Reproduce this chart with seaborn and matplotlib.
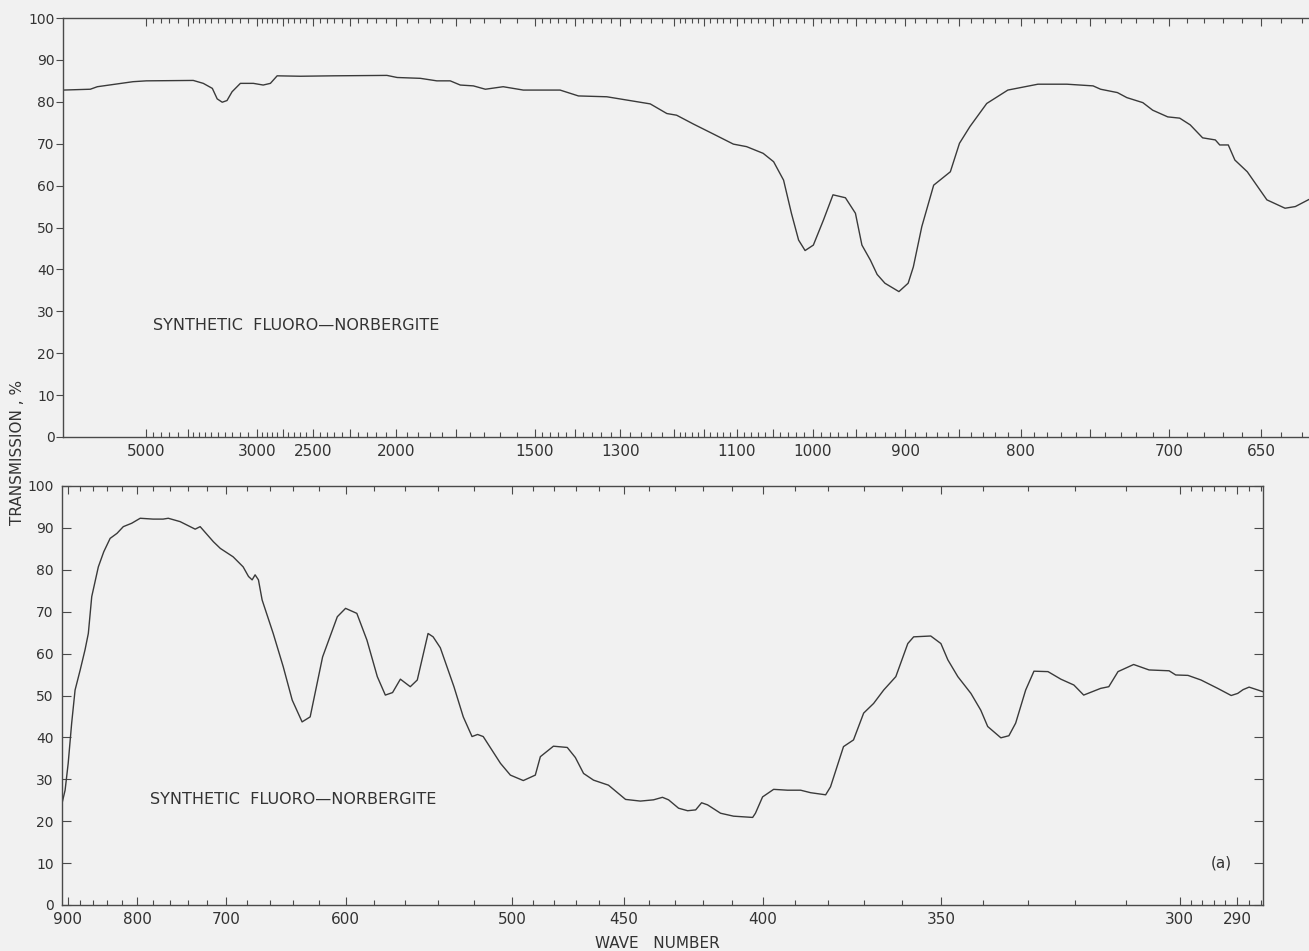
import numpy as np
import pandas as pd
import seaborn as sns
import matplotlib.pyplot as plt

# ---- data (wave number cm-1, transmission %) ----
TOP_WN = [10000, 7530, 7080, 5430, 5000, 3900, 3725, 3580, 3507, 3434, 3368, 3300,
          3195, 3043, 2938, 2865, 2800, 2597, 2355, 2045, 1995, 1890, 1822, 1770,
          1733, 1687, 1647, 1591, 1532, 1435, 1391, 1328, 1281, 1242, 1212, 1195,
          1167, 1135, 1105, 1086, 1063, 1049, 1036, 1026, 1017, 1009, 999, 987,
          976, 962, 951, 944, 935, 928, 920, 906, 897, 892, 884, 873, 858, 850,
          841, 827, 810, 787, 766, 748, 743, 732, 726, 716, 710, 701, 694, 688,
          681, 674, 671.6, 667, 663.5, 657, 647, 638, 633, 626.5]
TOP_T = [82.8, 83.0, 83.6, 84.8, 85.0, 85.1, 84.4, 83.2, 80.7, 79.9, 80.3, 82.4,
         84.4, 84.4, 84.0, 84.4, 86.2, 86.1, 86.2, 86.3, 85.8, 85.6, 85.0, 85.0,
         84.0, 83.8, 83.0, 83.6, 82.8, 82.8, 81.4, 81.2, 80.3, 79.5, 77.2, 76.8,
         74.7, 72.3, 69.9, 69.3, 67.7, 65.7, 61.3, 53.4, 47.0, 44.5, 45.8, 51.8,
         57.8, 57.1, 53.4, 45.8, 42.2, 38.8, 36.7, 34.7, 36.7, 40.6, 50.2, 60.1,
         63.3, 70.1, 74.1, 79.6, 82.8, 84.2, 84.2, 83.8, 83.0, 82.2, 81.0, 79.8,
         78.0, 76.4, 76.1, 74.5, 71.4, 70.9, 69.7, 69.7, 66.1, 63.3, 56.6, 54.6,
         55.0, 56.7]

BOT_WN = [909, 904, 899, 893.4, 888, 880, 872.6, 867.6, 862.5, 852.8, 845, 836,
          826.5, 818, 807, 796, 780, 768, 762, 748.5, 732, 726.7, 713, 706, 693.5,
          684, 679, 675.7, 673, 670, 666.7, 657, 648.5, 641, 633, 626.6, 617, 606,
          600, 592, 585, 578, 572.7, 568, 563, 556.8, 552.5, 546, 543, 538.8, 531,
          525.8, 521, 518, 515, 506, 501, 494.6, 488.8, 486.4, 480.3, 474,
          470.4, 466.8, 462.5, 456.2, 449.2, 443.3, 438.2, 434.8, 432.5, 428.8,
          425.5, 422.6, 420.5, 418.4, 413.9, 409.5, 403.2, 402.3, 400, 396.5,
          392.2, 388.2, 385.2, 380.8, 379.4, 375.7, 372.9, 370.1, 367.4, 364.7,
          361.5, 358.4, 356.9, 352.6, 350.1, 348.4, 346, 342.9, 340.6, 339, 336,
          334.2, 332.7, 330.5, 328.7, 325.7, 323, 320.3, 318.3, 314.9, 313.3,
          311.5, 308.5, 305.6, 301.9, 300.7, 298.5, 296.2, 293.3, 291, 289.9,
          289, 288, 285.7]
BOT_T = [24.3, 27.4, 33.8, 43.4, 51.3, 56.1, 60.9, 64.8, 73.6, 80.7, 84.3, 87.5,
         88.7, 90.3, 91.1, 92.3, 92.1, 92.1, 92.3, 91.5, 89.7, 90.3, 86.7, 85.1,
         83.1, 80.7, 78.4, 77.6, 78.8, 77.6, 72.8, 64.8, 56.9, 48.9, 43.7, 44.9,
         59.2, 68.8, 70.8, 69.6, 63.2, 54.5, 50.1, 50.7, 53.9, 52.1, 53.7, 64.8,
         64.0, 61.4, 52.1, 44.9, 40.2, 40.7, 40.2, 33.8, 31.0, 29.7, 31.0, 35.4,
         37.9, 37.6, 35.2, 31.4, 29.8, 28.6, 25.2, 24.8, 25.1, 25.7, 25.1, 23.1,
         22.5, 22.7, 24.4, 23.9, 21.9, 21.2, 20.9, 21.9, 25.8, 27.6,
         27.4, 27.4, 26.8, 26.3, 28.2, 37.8, 39.4, 45.8, 48.1, 51.3,
         54.5, 62.4, 64.0, 64.2, 62.4, 58.5, 54.5, 50.5, 46.5, 42.6, 39.9,
         40.4, 43.4, 51.3, 55.8, 55.7, 53.9, 52.5, 50.1, 51.7, 52.1,
         55.7, 57.4, 56.1, 55.9, 54.9, 54.8, 53.7, 51.7, 50.0, 50.5,
         51.4, 52.0, 50.9]

# ---- axis ticks (wave numbers) ----
TOP_LABELED = [5000, 3000, 2500, 2000, 1500, 1300, 1100, 1000, 900, 800, 700, 650]
TOP_MEDIUM = [4000, 2750, 2250, 1750, 1400, 1200, 1150, 1050, 950, 850, 750]
TOP_MINOR = ([4800, 4600, 4400, 4200]
             + list(range(3900, 3000, -100))
             + list(range(2950, 1500, -50))
             + list(range(1480, 1200, -20))
             + list(range(1190, 625, -10)))
BOT_LABELED = [900, 800, 700, 600, 500, 450, 400, 350, 300, 290]
BOT_MINOR = (list(range(900, 500, -20)) + list(range(490, 300, -10))
             + list(range(298, 285, -2)))
Y_TICKS = list(range(0, 101, 10))

INK = "#3a3a3a"
PAPER = "#f1f1f1"


def to_wavelength(x):
    # spectrometer chart paper is linear in wavelength
    x = np.asarray(x, dtype=float)
    with np.errstate(divide="ignore", invalid="ignore"):
        return -1e4 / x


def setup_xticks(ax, labeled, medium, minor, long_len, med_len):
    major = labeled + medium
    ax.set_xticks(major)
    ax.set_xticklabels([str(v) for v in labeled] + [""] * len(medium))
    ax.set_xticks([v for v in minor if v not in major], minor=True)
    for i, tick in enumerate(ax.xaxis.get_major_ticks()):
        size = long_len if i < len(labeled) else med_len
        tick.tick1line.set_markersize(size)
        tick.tick2line.set_markersize(size)


def style_axes(ax):
    ax.set_facecolor(PAPER)
    for sp in ax.spines.values():
        sp.set_color("#4a4a4a")
        sp.set_linewidth(1.0)
    ax.set_ylim(0, 100)
    ax.set_yticks(Y_TICKS)
    ax.set_xlabel("")
    ax.set_ylabel("")


sns.set_theme(style="ticks")
plt.rcParams["font.family"] = ["DejaVu Sans"]

fig = plt.figure(figsize=(13.09, 9.51), dpi=100, facecolor=PAPER)
ax_top = fig.add_axes([63 / 1309, 1 - 437 / 951, 1 - 63 / 1309, 419 / 951])
ax_bot = fig.add_axes([62 / 1309, 1 - 905 / 951, 1201 / 1309, 419 / 951])

top_df = pd.DataFrame({"wn": TOP_WN, "T": TOP_T})
bot_df = pd.DataFrame({"wn": BOT_WN, "T": BOT_T})
sns.lineplot(data=top_df, x="wn", y="T", ax=ax_top, color=INK, lw=1.0,
             estimator=None, sort=False)
sns.lineplot(data=bot_df, x="wn", y="T", ax=ax_bot, color=INK, lw=1.0,
             estimator=None, sort=False)

for ax in (ax_top, ax_bot):
    ax.set_xscale("function", functions=(to_wavelength, to_wavelength))
    style_axes(ax)

ax_top.set_xlim(10000, 626.5)
ax_bot.set_xlim(1e4 / 11, 1e4 / 35)

setup_xticks(ax_top, TOP_LABELED, TOP_MEDIUM, TOP_MINOR, 11, 9)
setup_xticks(ax_bot, BOT_LABELED, [], BOT_MINOR, 10, 8)

for ax in (ax_top, ax_bot):
    ax.tick_params(axis="x", which="both", direction="in", top=True, bottom=True,
                   color="#4a4a4a", width=0.8, labelsize=11, labelcolor="#333333",
                   pad=5)
    ax.tick_params(axis="x", which="minor", length=3.5)

ax_top.tick_params(axis="y", direction="out", length=5, width=0.8, color="#4a4a4a",
                   labelsize=10, labelcolor="#333333", pad=1, right=True)
ax_top.spines["right"].set_visible(False)
ax_bot.tick_params(axis="y", direction="in", length=6.5, width=0.8, color="#4a4a4a",
                   labelsize=10, labelcolor="#333333", pad=6, right=True)

ax_top.text(0.072, 26.7, "SYNTHETIC  FLUORO\u2014NORBERGITE",
            transform=ax_top.get_yaxis_transform(), fontsize=11.5, color="#333333",
            va="center", ha="left")
ax_bot.text(0.073, 25.1, "SYNTHETIC  FLUORO\u2014NORBERGITE",
            transform=ax_bot.get_yaxis_transform(), fontsize=11.5, color="#333333",
            va="center", ha="left")
ax_bot.text(0.965, 10, "(a)", transform=ax_bot.get_yaxis_transform(),
            fontsize=11, color="#333333", va="center", ha="center")

fig.text(18 / 1309, 1 - 452 / 951, "TRANSMISSION , %", rotation=90, fontsize=11,
         color="#333333", ha="center", va="center")
fig.text(657 / 1309, 1 - 943 / 951, "WAVE   NUMBER", fontsize=11, color="#333333",
         ha="center", va="center")

fig.savefig("out.png", dpi=100, facecolor=PAPER)
